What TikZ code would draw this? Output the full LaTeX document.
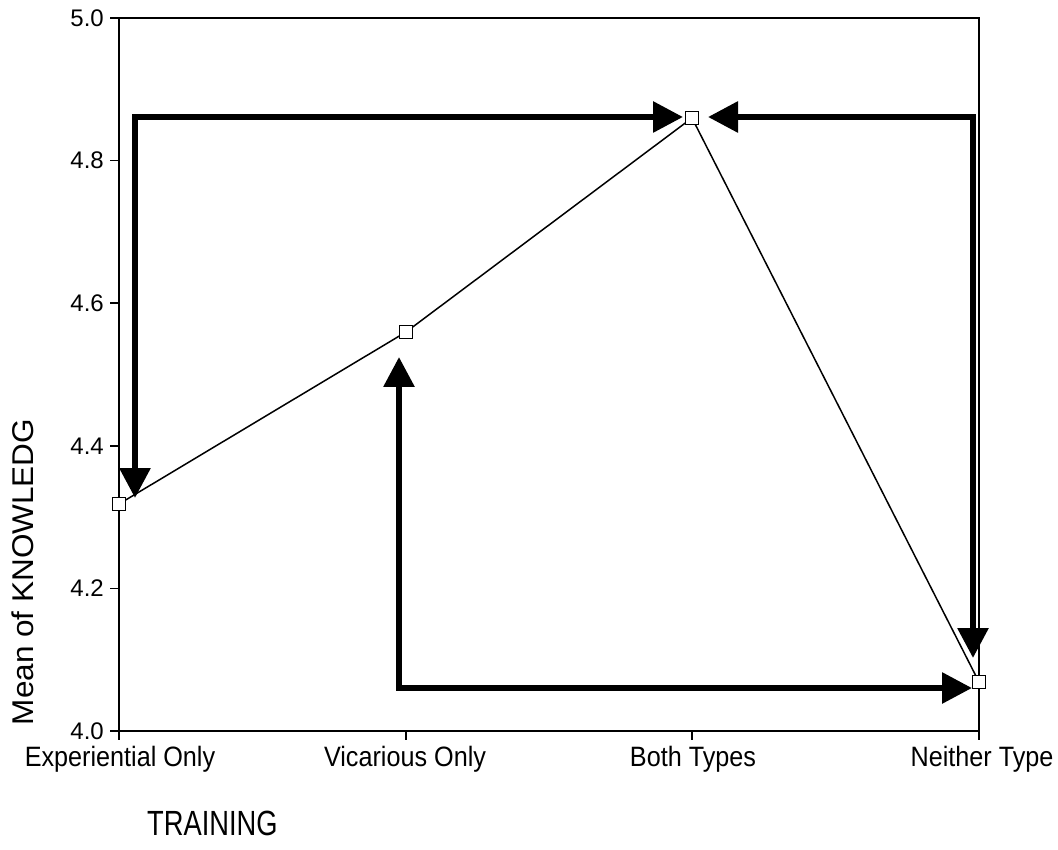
\documentclass[tikz,border=0pt]{standalone}
\usepackage{fontspec}
\setmainfont{Liberation Sans}
\newfontfamily\catfont{Liberation Sans}[FakeStretch=0.9]
\newfontfamily\titfont{Liberation Sans}[FakeStretch=0.78]
\newfontfamily\ylabfont{Liberation Sans}[FakeStretch=1.05]
\usetikzlibrary{arrows.meta}

\begin{document}
\begin{tikzpicture}[x=1pt, y=-1pt,
    mean/.style={draw, fill=white, line width=1.3pt, minimum size=13pt, inner sep=0pt},
    bigarrow/.style={line width=6pt, line join=miter, >={Triangle[length=30pt,width=30pt]}, <->},
    ticklab/.style={anchor=east, inner sep=0pt, font=\fontsize{24}{26}\selectfont},
    catlab/.style={anchor=base, inner sep=0pt, font=\catfont\fontsize{28}{30}\selectfont}]

\useasboundingbox (0,0) rectangle (1058,850);

%%%%%%%%%%%%%%%%%%%%%%%%%%%%%%%%%%%%%%%%%%%%%%%%%%%%%%%%%%%%%%%%
% Frame and axes
%%%%%%%%%%%%%%%%%%%%%%%%%%%%%%%%%%%%%%%%%%%%%%%%%%%%%%%%%%%%%%%%

% Border
\draw [line width=1.8pt] (119,18) rectangle (979,731);
\draw [line width=2.4pt] (119,18) -- (119,732);

% Y ticks
\foreach \lab [count=\i from 0] in {4.0,4.2,4.4,4.6,4.8,5.0} {
  \draw [line width=1.8pt] (110,731-\i*142.6) -- (119,731-\i*142.6);
  \node[ticklab] (yl\i) at (104,731-\i*142.6) {\lab};
}

% X ticks
\foreach \xx in {119,406,692,979} {
  \draw [line width=1.8pt] (\xx,731) -- (\xx,740);
}

% Category labels
\node[catlab] (c_EO) at (120,766) {Experiential Only};
\node[catlab] (c_VO) at (405,766) {Vicarious Only};
\node[catlab] (c_BT) at (693,766) {Both Types};
\node[catlab] (c_NT) at (982,766) {Neither Type};

% Axis titles
\node[anchor=base west, inner sep=0pt, font=\titfont\fontsize{35}{37}\selectfont] (xtitle) at (147,835) {TRAINING};
\node[anchor=base, rotate=90, inner sep=0pt, font=\ylabfont\fontsize{30}{32}\selectfont] (ytitle) at (33,572) {Mean of KNOWLEDG};

%%%%%%%%%%%%%%%%%%%%%%%%%%%%%%%%%%%%%%%%%%%%%%%%%%%%%%%%%%%%%%%%
% Means
%%%%%%%%%%%%%%%%%%%%%%%%%%%%%%%%%%%%%%%%%%%%%%%%%%%%%%%%%%%%%%%%

\coordinate (m_EO) at (119,504);
\coordinate (m_VO) at (406,332);
\coordinate (m_BT) at (692,118);
\coordinate (m_NT) at (979,682);

% Profile line
\draw [line width=1.5pt] (m_EO) -- (m_VO) -- (m_BT) -- (m_NT);

% Markers
\node[mean] (p_EO) at (m_EO) {};
\node[mean] (p_VO) at (m_VO) {};
\node[mean] (p_BT) at (m_BT) {};
\node[mean] (p_NT) at (m_NT) {};

%%%%%%%%%%%%%%%%%%%%%%%%%%%%%%%%%%%%%%%%%%%%%%%%%%%%%%%%%%%%%%%%
% Comparison arrows
%%%%%%%%%%%%%%%%%%%%%%%%%%%%%%%%%%%%%%%%%%%%%%%%%%%%%%%%%%%%%%%%

% Arrow tips
\coordinate (t_EO) at ([xshift=16pt,yshift=6pt]p_EO.center);
\coordinate (t_BTl) at ([xshift=-9pt,yshift=1pt]p_BT.center);
\coordinate (t_BTr) at ([xshift=16pt,yshift=1pt]p_BT.center);
\coordinate (t_NTt) at ([xshift=-6pt,yshift=24pt]p_NT.center);
\coordinate (t_NTl) at ([xshift=-7pt,yshift=-6pt]p_NT.center);
\coordinate (t_VO) at ([xshift=-7pt,yshift=-25pt]p_VO.center);

% Experiential <-> Both
\draw[bigarrow] (t_EO) |- (t_BTl);

% Both <-> Neither
\draw[bigarrow] (t_BTr) -| (t_NTt);

% Vicarious <-> Neither
\draw[bigarrow] (t_VO) |- (t_NTl);

\end{tikzpicture}
\end{document}
